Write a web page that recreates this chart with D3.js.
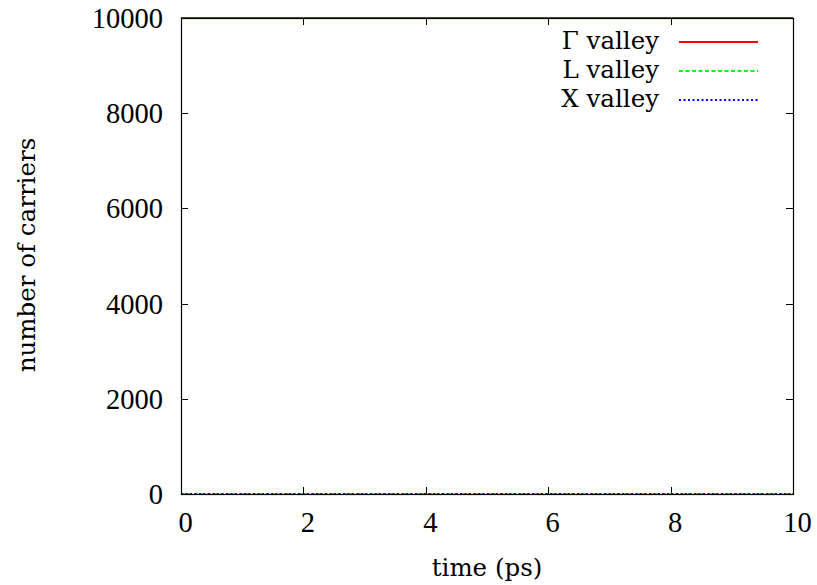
<!DOCTYPE html>
<html>
<head>
<meta charset="utf-8">
<script src="https://cdn.jsdelivr.net/npm/d3@7"></script>
<style>
  html, body { margin: 0; padding: 0; background: #fff; }
  svg text { fill: #000; }
  .num { font-family: "Liberation Serif", serif; }
  .word { font-family: "DejaVu Serif", serif; }
</style>
</head>
<body>
<svg id="chart" width="817" height="585"></svg>
<script>
// Carrier population per valley versus simulation time
const timePs = [0, 1, 2, 3, 4, 5, 6, 7, 8, 9, 10];
const gammaValley = [10000, 10000, 10000, 10000, 10000, 10000, 10000, 10000, 10000, 10000, 10000];
const lValley = [0, 0, 0, 0, 0, 0, 0, 0, 0, 0, 0];
const xValley = [0, 0, 0, 0, 0, 0, 0, 0, 0, 0, 0];
const xTicks = [0, 2, 4, 6, 8, 10];
const yTicks = [0, 2000, 4000, 6000, 8000, 10000];
const seriesNames = ["\u0393 valley", "L valley", "X valley"];

const svg = d3.select("#chart");
const m = { left: 181, right: 793, top: 18, bottom: 494 };

const x = d3.scaleLinear().domain([0, 10]).range([m.left, m.right]);
const y = d3.scaleLinear().domain([0, 10000]).range([m.bottom, m.top]);

const series = [
  { name: seriesNames[0], values: gammaValley, color: "#ff0000", dash: null, width: 2.2 },
  { name: seriesNames[1], values: lValley, color: "#00ff00", dash: "4,2.5", width: 2 },
  { name: seriesNames[2], values: xValley, color: "#0000ff", dash: "2,2.5", width: 2 }
];

// Data lines
const line = d3.line().x(d => x(d[0])).y(d => y(d[1]));
series.forEach(s => {
  svg.append("path")
    .datum(timePs.map((t, i) => [t, s.values[i]]))
    .attr("d", line)
    .attr("fill", "none")
    .attr("stroke", s.color)
    .attr("stroke-width", s.width)
    .attr("stroke-dasharray", s.dash);
});

// Ticks pointing inward on all four sides
const tickLen = 7;
const ticksG = svg.append("g").attr("stroke", "#000").attr("stroke-width", 1);
xTicks.forEach(v => {
  const px = Math.round(x(v)) + 0.5;
  ticksG.append("line").attr("x1", px).attr("x2", px).attr("y1", m.bottom).attr("y2", m.bottom - tickLen);
  ticksG.append("line").attr("x1", px).attr("x2", px).attr("y1", m.top).attr("y2", m.top + tickLen);
});
yTicks.forEach(v => {
  const py = Math.round(y(v)) + 0.5;
  ticksG.append("line").attr("x1", m.left).attr("x2", m.left + tickLen).attr("y1", py).attr("y2", py);
  ticksG.append("line").attr("x1", m.right).attr("x2", m.right - tickLen).attr("y1", py).attr("y2", py);
});

// Plot border
svg.append("rect")
  .attr("x", m.left + 0.5).attr("y", m.top + 0.5)
  .attr("width", m.right - m.left).attr("height", m.bottom - m.top)
  .attr("fill", "none").attr("stroke", "#000").attr("stroke-width", 1.2);

// Tick labels
const fs = 28.5;
const fw = 24.5;
svg.append("g").selectAll("text").data(xTicks).join("text")
  .attr("class", "num")
  .attr("x", d => x(d) + 4.5)
  .attr("y", 532)
  .attr("text-anchor", "middle")
  .attr("font-size", fs)
  .text(d => d);
svg.append("g").selectAll("text").data(yTicks).join("text")
  .attr("class", "num")
  .attr("x", 163)
  .attr("y", d => y(d) + 10)
  .attr("text-anchor", "end")
  .attr("font-size", fs)
  .text(d => d);

// Axis titles
svg.append("text")
  .attr("class", "word")
  .attr("x", 487).attr("y", 576)
  .attr("text-anchor", "middle")
  .attr("font-size", fw)
  .text("time (ps)");
svg.append("text")
  .attr("class", "word")
  .attr("transform", "translate(35,255) rotate(-90)")
  .attr("text-anchor", "middle")
  .attr("font-size", fw)
  .text("number of carriers");

// Legend
const legend = svg.append("g");
series.forEach((s, i) => {
  const ly = 42 + i * 29;
  legend.append("text")
    .attr("class", "word")
    .attr("x", 659).attr("y", ly + 7)
    .attr("text-anchor", "end")
    .attr("font-size", fw)
    .text(s.name);
  legend.append("line")
    .attr("x1", 679).attr("x2", 758)
    .attr("y1", ly).attr("y2", ly)
    .attr("stroke", s.color)
    .attr("stroke-width", s.width)
    .attr("stroke-dasharray", s.dash);
});
</script>
</body>
</html>
